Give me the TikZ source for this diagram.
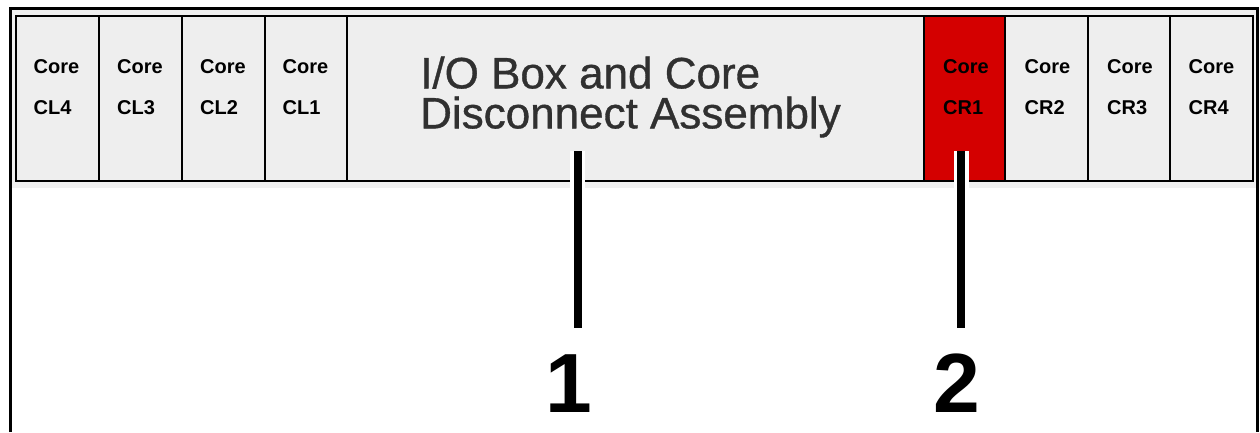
\documentclass[tikz,border=0pt]{standalone}
\usepackage{fontspec}
\setmainfont{Liberation Sans}
\newfontfamily\iofont[FakeBold=0.8]{Liberation Sans}
\definecolor{bandgray}{HTML}{F0F0F0}
\definecolor{boxgray}{HTML}{EEEEEE}
\definecolor{corered}{HTML}{D40000}
\definecolor{bigtext}{HTML}{303030}
\tikzset{
  corebox/.style={draw=black, line width=2pt, fill=boxgray, minimum height=165pt, inner sep=0pt, outer sep=0pt},
  coretext/.style={font=\fontsize{20}{41}\selectfont\bfseries, align=left, inner sep=0pt, text=black},
  halo/.style={draw=white, line width=15pt},
  leader/.style={draw=black, line width=8pt},
  numlabel/.style={font=\fontsize{84}{84}\selectfont\bfseries, inner sep=0pt, anchor=base}
}
\begin{document}
\begin{tikzpicture}[x=1pt,y=-1pt]
\useasboundingbox (0,0) rectangle (1260,432);
% grey band
\fill[bandgray] (11,9.5) rectangle (1256,188);
% boxes
\node[corebox, minimum width=83pt] (cl4) at (57.5,98.5) {};
\node[corebox, minimum width=83pt] (cl3) at (140.5,98.5) {};
\node[corebox, minimum width=83pt] (cl2) at (223.5,98.5) {};
\node[corebox, minimum width=82pt] (cl1) at (306,98.5) {};
\node[corebox, minimum width=577pt] (io) at (635.5,98.5) {};
\node[corebox, minimum width=81pt, fill=corered] (cr1) at (964.5,98.5) {};
\node[corebox, minimum width=83pt] (cr2) at (1046.5,98.5) {};
\node[corebox, minimum width=82pt] (cr3) at (1129,98.5) {};
\node[corebox, minimum width=83pt] (cr4) at (1211.5,98.5) {};
% texts
\node[coretext] (tcl4) at (56.5,87) {Core\\CL4};
\node[coretext] (tcl3) at (140,87) {Core\\CL3};
\node[coretext] (tcl2) at (223,87) {Core\\CL2};
\node[coretext] (tcl1) at (305.5,87) {Core\\CL1};
\node[coretext] (tcr1) at (966,87) {Core\\CR1};
\node[coretext] (tcr2) at (1047.5,87) {Core\\CR2};
\node[coretext] (tcr3) at (1130,87) {Core\\CR3};
\node[coretext] (tcr4) at (1211.5,87) {Core\\CR4};
\node[font=\iofont\fontsize{44}{40}\selectfont, align=left, inner sep=0pt, anchor=west, text=bigtext] (tio) at (420,97) {I/O Box and Core\\Disconnect Assembly};
% leader lines
\coordinate (t1) at (577.5,151);
\coordinate (b1) at (577.5,328);
\coordinate (t2) at (961,151);
\coordinate (b2) at (961,328);
\draw[halo] (t1) -- (b1);
\draw[halo] (t2) -- (b2);
\draw[leader] (t1) -- (b1);
\draw[leader] (t2) -- (b2);
% numbers
\node[numlabel] (n1) at (569,412) {1};
\node[numlabel] (n2) at (957,412) {2};
% frame
\draw[line width=3pt] (10,432) -- (10,8) -- (1257.5,8) -- (1257.5,432);
\end{tikzpicture}
\end{document}
